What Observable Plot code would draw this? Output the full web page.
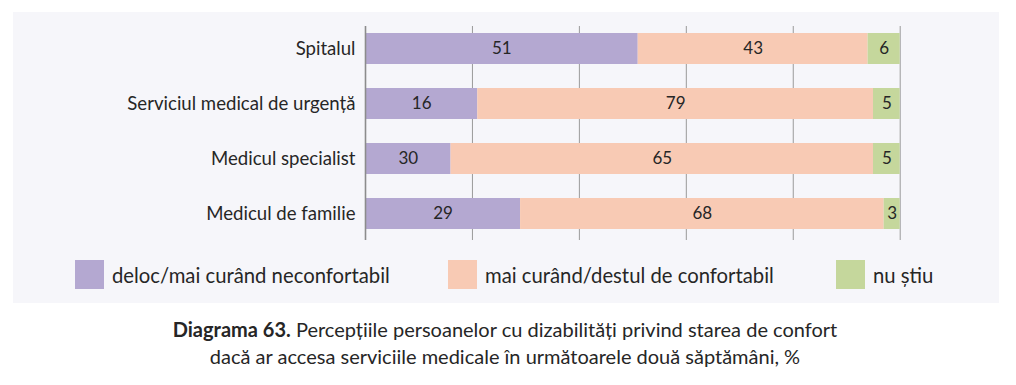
<!DOCTYPE html>
<html>
<head>
<meta charset="utf-8">
<script src="https://cdn.jsdelivr.net/npm/d3@7"></script>
<script src="https://cdn.jsdelivr.net/npm/@observablehq/plot@0.6"></script>
<style>
  html, body { margin: 0; padding: 0; background: #ffffff; }
  body { width: 1016px; height: 385px; position: relative; overflow: hidden; font-family: Lato, "Noto Sans", sans-serif; color: #262626; }
  #panel { position: absolute; left: 13px; top: 12px; width: 986px; height: 291px; background: #f6f6fa; }
  #chart { position: absolute; left: 0; top: 0; }
  #legend { position: absolute; left: 0; top: 260px; width: 1016px; height: 29px; }
  .item { position: absolute; top: 0; height: 29px; display: flex; align-items: center; font-size: 20.3px; white-space: nowrap; }
  .sw { width: 29px; height: 29px; margin-right: 8px; flex: none; }
  #caption { position: absolute; left: 0; top: 316px; width: 1010px; text-align: center; font-size: 20px; line-height: 27px; color: #262626; }
</style>
</head>
<body>
<div id="panel"></div>
<div id="chart"></div>
<div id="legend"></div>
<div id="caption"></div>
<script>
const categories = ["Spitalul", "Serviciul medical de urgență", "Medicul specialist", "Medicul de familie"];
const series = ["deloc/mai curând neconfortabil", "mai curând/destul de confortabil", "nu știu"];
// bar lengths as drawn in the picture
const neconfortabil = [51, 21, 16, 29];
const confortabil = [43, 74, 79, 68];
const nuStiu = [6, 5, 5, 3];
// value labels as printed on the bars
const labelsNeconfortabil = ["51", "16", "30", "29"];
const labelsConfortabil = ["43", "79", "65", "68"];
const labelsNuStiu = ["6", "5", "5", "3"];
const colors = ["#b4a8d1", "#f8cab4", "#c5d79c"];
const gridTicks = [0, 20, 40, 60, 80, 100];
const legendX = [75, 448, 836];
const captionBold = "Diagrama 63.";
const captionRest = " Percepțiile persoanelor cu dizabilități privind starea de confort";
const captionLine2 = "dacă ar accesa serviciile medicale în următoarele două săptămâni, %";

const valueSets = [neconfortabil, confortabil, nuStiu];
const labelSets = [labelsNeconfortabil, labelsConfortabil, labelsNuStiu];
const rows = [];
categories.forEach((c, i) => {
  series.forEach((s, j) => {
    rows.push({category: c, series: s, value: valueSets[j][i], label: labelSets[j][i]});
  });
});

const chart = Plot.plot({
  width: 1016,
  height: 250,
  marginLeft: 365,
  marginRight: 116.3,
  marginTop: 20,
  marginBottom: 7.4,
  style: {background: "transparent", fontFamily: "Lato, 'Noto Sans', sans-serif", color: "#262626"},
  x: {domain: [0, 100], axis: null},
  y: {domain: categories, paddingInner: 0.43, paddingOuter: 0.215, label: null},
  color: {domain: series, range: colors},
  marks: [
    Plot.ruleX(gridTicks.slice(1), {stroke: "#9a9a9a", strokeWidth: 1, insetTop: 6, insetBottom: 2.6}),
    Plot.barX(rows, Plot.stackX({x: "value", y: "category", fill: "series"})),
    Plot.ruleX([0], {stroke: "#8c8c8c", strokeWidth: 1.6, insetTop: 6, insetBottom: 2.6}),
    Plot.text(rows, Plot.stackX({x: "value", y: "category", text: "label", fill: "#262626", fontSize: 17})),
    Plot.axisY({tickSize: 0, tickPadding: 10, fontSize: 18.6, fill: "#262626", label: null})
  ]
});
document.getElementById("chart").appendChild(chart);

const legend = document.getElementById("legend");
series.forEach((s, j) => {
  const item = document.createElement("div");
  item.className = "item";
  item.style.left = legendX[j] + "px";
  const sw = document.createElement("div");
  sw.className = "sw";
  sw.style.background = colors[j];
  const t = document.createElement("span");
  t.textContent = s;
  item.appendChild(sw);
  item.appendChild(t);
  legend.appendChild(item);
});

const cap = document.getElementById("caption");
const b = document.createElement("b");
b.textContent = captionBold;
cap.appendChild(b);
cap.appendChild(document.createTextNode(captionRest));
cap.appendChild(document.createElement("br"));
cap.appendChild(document.createTextNode(captionLine2));
</script>
</body>
</html>
